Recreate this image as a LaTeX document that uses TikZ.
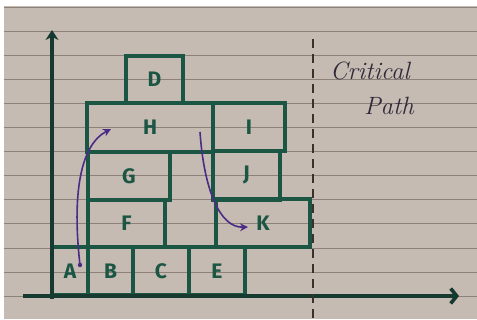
\documentclass[tikz,border=0pt]{standalone}
\usepackage{fontspec}
\setsansfont{Fira Sans}
\usetikzlibrary{arrows.meta, positioning}
\definecolor{paperBg}{HTML}{C6BBB2}
\definecolor{paperLine}{HTML}{8E817A}
\definecolor{inkGreen}{HTML}{1B5644}
\definecolor{axisInk}{HTML}{163A30}
\definecolor{inkPurple}{HTML}{4A2C86}
\definecolor{inkDark}{HTML}{2F2A3A}
\definecolor{dashInk}{HTML}{3B302C}

\begin{document}
\begin{tikzpicture}[x=1pt, y=-1pt,
    blok/.style={rectangle, draw=inkGreen, line width=3.2pt, inner sep=0pt,
      font=\sffamily\bfseries\fontsize{21}{21}\selectfont, text=inkGreen},
    axe/.style={line width=3.6pt, axisInk},
    ruled/.style={line width=0.9pt, paperLine},
    pth/.style={-{Stealth[length=8pt, width=8pt]}, line width=1.6pt, inkPurple},
    note/.style={font=\itshape\fontsize{25}{25}\selectfont, text=inkDark}]
  \useasboundingbox (0,0) rectangle (477,320);
  \fill[white] (0,0) rectangle (477,320);
  \fill[paperBg] (4,6) rectangle (477,319);
  \foreach \k in {0,...,12}
    \draw[ruled] (4,{7+24.1*\k}) -- (477,{7+24.1*\k});

  % bottom row
  \node[blok, minimum width=36pt, minimum height=48pt] (A) at (70,271) {A};
  \node[blok, minimum width=45pt, minimum height=48pt] (B) at (110.5,271) {B};
  \node[blok, minimum width=56pt, minimum height=48pt] (C) at (161,271) {C};
  \node[blok, minimum width=56pt, minimum height=48pt] (E) at (217,271) {E};
  % stacked blocks
  \node[blok, minimum width=77pt, minimum height=47pt] (F) at (126.5,223.5) {F};
  \node[blok, minimum width=82pt, minimum height=48pt] (G) at (129,176) {G};
  \node[blok, minimum width=126pt, minimum height=49pt] (H) at (150,127.5) {H};
  \node[blok, minimum width=57pt, minimum height=47pt] (D) at (154.5,79.5) {D};
  \node[blok, minimum width=72pt, minimum height=48pt] (I) at (249,127) {I};
  \node[blok, minimum width=67pt, minimum height=49pt] (J) at (246.5,175.5) {J};
  \node[blok, minimum width=94pt, minimum height=48pt] (K) at (263,223) {K};

  % axes
  \coordinate (ybot) at (52,299);
  \coordinate (ytop) at (52,30);
  \coordinate (xbeg) at (23,296);
  \coordinate (xend) at (459,296);
  \draw[axe, -{Stealth[length=10pt, width=13pt]}] (ybot) -- (ytop);
  \draw[axe, -{Straight Barb[length=6pt, width=15pt]}] (xbeg) -- (xend);

  % critical path marker
  \coordinate (dtop) at (313,39);
  \coordinate (dbot) at (313,320);
  \draw[dashInk, line width=1.3pt, dash pattern=on 9pt off 6pt] (dtop) -- (dbot);
  \node[note] (crit) at (370,71) {Critical};
  \node[note] (cpath) at (389,106) {Path};

  % purple arrows
  \coordinate (pa) at (80,265);
  \coordinate (ph) at (111,129);
  \coordinate (ps) at (200,132);
  \coordinate (pk) at (248,227);
  \fill[inkPurple] (pa) circle (2.2pt);
  \draw[pth] (pa) .. controls (72,195) and (80,145) .. (ph);
  \draw[pth] (ps) .. controls (204,190) and (220,228) .. (pk);
\end{tikzpicture}
\end{document}
